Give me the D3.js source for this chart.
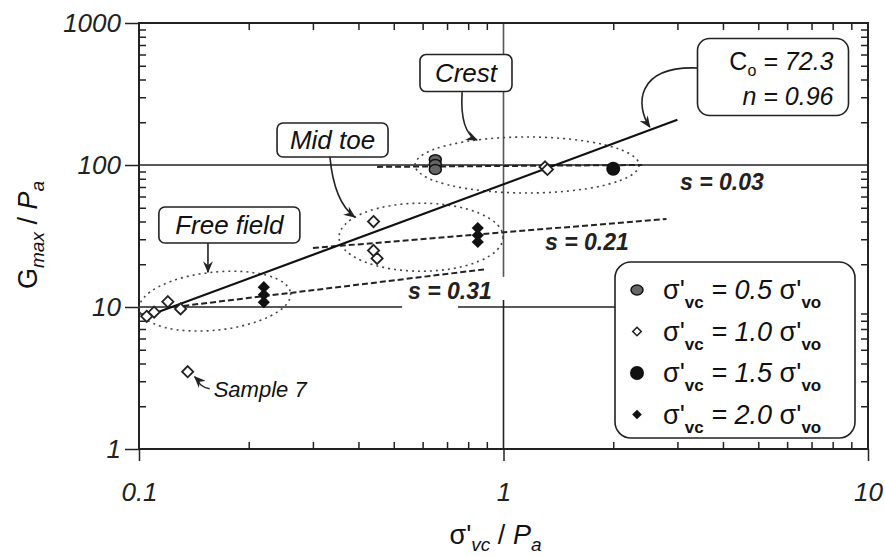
<!DOCTYPE html>
<html>
<head>
<meta charset="utf-8">
<script src="https://cdn.jsdelivr.net/npm/d3@7"></script>
<style>
  body { margin: 0; background: #fff; }
  svg { font-family: "Liberation Sans", Arial, sans-serif; }
  .frame path.domain { stroke: #222; stroke-width: 2; }
  .frame line { stroke: #222; stroke-width: 1.5; }
  .frame text { font-size: 26px; font-style: italic; fill: #222; }
</style>
</head>
<body>
<div id="chart"></div>
<script>
var fullW = 885, fullH = 556;
var margin = {top: 23, right: 17, bottom: 107, left: 139};
var width = fullW - margin.left - margin.right;
var height = fullH - margin.top - margin.bottom;

// tick values and labels
var xTicks = [0.1, 1, 10];
var xTickLabels = ["0.1", "1", "10"];
var yTicks = [1, 10, 100, 1000];
var yTickLabels = ["1", "10", "100", "1000"];

// sigma'vc = 0.5 sigma'vo (grey circles)
var halfX = [0.65, 0.65, 0.65];
var halfY = [109, 101, 93];
// sigma'vc = 1.0 sigma'vo (open diamonds)
var oneX = [0.105, 0.11, 0.12, 0.13, 0.136, 0.44, 0.44, 0.45, 1.3, 1.32];
var oneY = [8.6, 9.2, 10.9, 9.7, 3.5, 40, 25, 22, 97, 93];
// sigma'vc = 1.5 sigma'vo (black circles)
var oneHalfX = [2.0];
var oneHalfY = [94];
// sigma'vc = 2.0 sigma'vo (black diamonds)
var twoX = [0.22, 0.22, 0.22, 0.85, 0.85, 0.85];
var twoY = [13.8, 12.2, 10.8, 36, 32, 28.7];

// fitted line (Co = 72.3, n = 0.96), end points
var fitX = [0.105, 3.0];
var fitY = [8.6, 208];
// trend lines through each group
var s03X = [0.45, 2.4], s03Y = [97, 100];
var s21X = [0.3, 2.8], s21Y = [26, 41.7];
var s31X = [0.125, 0.9], s31Y = [10, 18.5];

var svg = d3.select("#chart").append("svg")
    .attr("width", fullW)
    .attr("height", fullH);

var defs = svg.append("defs");
defs.append("marker")
    .attr("id", "arrow")
    .attr("viewBox", "0 0 12 10")
    .attr("refX", 11).attr("refY", 5)
    .attr("markerWidth", 12).attr("markerHeight", 10)
    .attr("markerUnits", "userSpaceOnUse")
    .attr("orient", "auto")
    .append("path")
    .attr("d", "M0,0 L12,5 L0,10 L4,5 Z")
    .attr("fill", "#222");

var g = svg.append("g")
    .attr("transform", "translate(" + margin.left + "," + margin.top + ")");

var x = d3.scaleLog().domain([0.1, 10]).range([0, width]);
var y = d3.scaleLog().domain([1, 1000]).range([height, 0]);

var xMinor = x.ticks().filter(function(d) { return xTicks.indexOf(d) < 0; });
var yMinor = y.ticks().filter(function(d) { return yTicks.indexOf(d) < 0; });

// reference lines
var ref = g.append("g").attr("class", "ref")
    .attr("stroke", "#222").attr("stroke-width", 1.6).attr("fill", "none");
ref.append("line")
    .attr("x1", x(0.1)).attr("x2", x(10))
    .attr("y1", y(100)).attr("y2", y(100));
ref.append("line")
    .attr("x1", x(0.1)).attr("x2", x(0.527))
    .attr("y1", y(10)).attr("y2", y(10));
ref.append("line")
    .attr("x1", x(0.75)).attr("x2", x(4))
    .attr("y1", y(10)).attr("y2", y(10));
ref.append("line")
    .attr("x1", x(1)).attr("x2", x(1))
    .attr("y1", y(1000)).attr("y2", y(16.3))
    .attr("stroke", "#555");
ref.append("line")
    .attr("x1", x(1)).attr("x2", x(1))
    .attr("y1", y(11.2)).attr("y2", y(1));

// axes
g.append("g").attr("class", "frame")
    .attr("transform", "translate(0," + height + ")")
    .call(d3.axisBottom(x).tickValues(xTicks).tickSize(12).tickPadding(22)
        .tickFormat(function(d, i) { return xTickLabels[i]; }));
g.append("g").attr("class", "frame")
    .attr("transform", "translate(0," + height + ")")
    .call(d3.axisBottom(x).tickValues(xMinor).tickSize(-7).tickFormat(""));
g.append("g").attr("class", "frame")
    .call(d3.axisTop(x).tickValues(xMinor).tickSize(-7).tickFormat(""));
g.append("g").attr("class", "frame")
    .call(d3.axisLeft(y).tickValues(yTicks).tickSize(14).tickPadding(4)
        .tickFormat(function(d, i) { return yTickLabels[i]; }));
g.append("g").attr("class", "frame")
    .call(d3.axisLeft(y).tickValues(yMinor).tickSize(-7).tickFormat(""));
g.append("g").attr("class", "frame")
    .attr("transform", "translate(" + width + ",0)")
    .call(d3.axisRight(y).tickValues(yMinor).tickSize(-7).tickFormat(""));
g.selectAll(".frame path.domain").attr("d", null);
g.append("rect")
    .attr("width", width).attr("height", height)
    .attr("fill", "none").attr("stroke", "#222").attr("stroke-width", 2);

// dotted ellipses around groups
var groups = [
  {cx: 1.16, cy: 100, rx: 112, ry: 28, rot: 0},
  {cx: 0.594, cy: 31, rx: 82, ry: 34, rot: 0},
  {cx: 0.1616, cy: 11, rx: 76, ry: 29, rot: -6}
];
g.selectAll("ellipse.group").data(groups).enter().append("ellipse")
    .attr("class", "group")
    .attr("transform", function(d) {
      return "translate(" + x(d.cx) + "," + y(d.cy) + ") rotate(" + d.rot + ")";
    })
    .attr("rx", function(d) { return d.rx; })
    .attr("ry", function(d) { return d.ry; })
    .attr("fill", "none").attr("stroke", "#444")
    .attr("stroke-width", 1.6).attr("stroke-dasharray", "2,4");

// trend lines
var line = d3.line().x(function(d) { return x(d[0]); }).y(function(d) { return y(d[1]); });
[[s03X, s03Y], [s21X, s21Y], [s31X, s31Y]].forEach(function(s) {
  g.append("path")
      .attr("d", line(d3.zip(s[0], s[1])))
      .attr("fill", "none").attr("stroke", "#222")
      .attr("stroke-width", 2).attr("stroke-dasharray", "6,3");
});
g.append("path")
    .attr("d", line(d3.zip(fitX, fitY)))
    .attr("fill", "none").attr("stroke", "#111").attr("stroke-width", 2.2);

// markers
var diamond = d3.symbol().type(d3.symbolDiamond2).size(80);
var diamondLg = d3.symbol().type(d3.symbolDiamond2).size(95);

g.selectAll("ellipse.half").data(d3.zip(halfX, halfY)).enter().append("ellipse")
    .attr("class", "half")
    .attr("cx", function(d) { return x(d[0]); })
    .attr("cy", function(d) { return y(d[1]); })
    .attr("rx", 6).attr("ry", 5)
    .attr("fill", "#666").attr("stroke", "#111").attr("stroke-width", 1.5);

g.selectAll("path.one").data(d3.zip(oneX, oneY)).enter().append("path")
    .attr("class", "one")
    .attr("transform", function(d) { return "translate(" + x(d[0]) + "," + y(d[1]) + ")"; })
    .attr("d", diamond)
    .attr("fill", "#fff").attr("stroke", "#222").attr("stroke-width", 1.8);

g.selectAll("circle.onehalf").data(d3.zip(oneHalfX, oneHalfY)).enter().append("circle")
    .attr("class", "onehalf")
    .attr("cx", function(d) { return x(d[0]); })
    .attr("cy", function(d) { return y(d[1]); })
    .attr("r", 7).attr("fill", "#111");

g.selectAll("path.two").data(d3.zip(twoX, twoY)).enter().append("path")
    .attr("class", "two")
    .attr("transform", function(d) { return "translate(" + x(d[0]) + "," + y(d[1]) + ")"; })
    .attr("d", diamondLg)
    .attr("fill", "#111");

// slope labels
var slopes = [
  {t: "s = 0.03", x: 3.05, y: 66.7},
  {t: "s = 0.21", x: 1.30, y: 25.2},
  {t: "s = 0.31", x: 0.547, y: 11.4}
];
g.selectAll("text.slope").data(slopes).enter().append("text")
    .attr("class", "slope")
    .attr("x", function(d) { return x(d.x); })
    .attr("y", function(d) { return y(d.y); })
    .style("font-size", "23px").style("font-weight", "bold").style("font-style", "italic")
    .attr("fill", "#222")
    .text(function(d) { return d.t; });

// boxed callouts
var callouts = [
  {t: "Crest", x: 0.789, y: 444, w: 92, h: 37, from: [0.77, 326], c1: [0.76, 190], c2: [0.80, 160], to: [0.846, 150]},
  {t: "Mid toe", x: 0.3396, y: 150, w: 111, h: 34, from: [0.334, 114], c1: [0.34, 70], c2: [0.36, 50], to: [0.391, 43]},
  {t: "Free field", x: 0.177, y: 37.8, w: 141, h: 36, from: [0.1546, 28.2], c1: [0.1546, 24], c2: [0.1546, 20], to: [0.1546, 17.6]}
];
callouts.forEach(function(c) {
  var cx = x(c.x), cy = y(c.y);
  g.append("rect")
      .attr("x", cx - c.w / 2).attr("y", cy - c.h / 2)
      .attr("width", c.w).attr("height", c.h)
      .attr("rx", 6)
      .attr("fill", "#fff").attr("stroke", "#222").attr("stroke-width", 1.6);
  g.append("text")
      .attr("x", cx).attr("y", cy + 9)
      .attr("text-anchor", "middle")
      .style("font-size", "26px").style("font-style", "italic")
      .attr("fill", "#111")
      .text(c.t);
  g.append("path")
      .attr("d", "M" + x(c.from[0]) + "," + y(c.from[1]) +
                 " C" + x(c.c1[0]) + "," + y(c.c1[1]) + " " +
                 x(c.c2[0]) + "," + y(c.c2[1]) + " " +
                 x(c.to[0]) + "," + y(c.to[1]))
      .attr("fill", "none").attr("stroke", "#222").attr("stroke-width", 1.6)
      .attr("marker-end", "url(#arrow)");
});

// fit parameter box
var bx = x(5.47), by = y(420);
g.append("rect")
    .attr("x", bx - 75).attr("y", by - 38)
    .attr("width", 151).attr("height", 77).attr("rx", 12)
    .attr("fill", "#fff").attr("stroke", "#222").attr("stroke-width", 1.6);
var c0 = g.append("text")
    .attr("x", bx + 61).attr("y", by - 6)
    .attr("text-anchor", "end")
    .style("font-size", "25px").style("font-style", "italic").attr("fill", "#111");
c0.append("tspan").style("font-style", "normal").text("C");
c0.append("tspan").attr("dy", 6).style("font-size", "16px").style("font-style", "normal").text("o");
c0.append("tspan").attr("dy", -6).text(" = 72.3");
g.append("text")
    .attr("x", bx + 61).attr("y", by + 29)
    .attr("text-anchor", "end")
    .style("font-size", "25px").style("font-style", "italic").attr("fill", "#111")
    .text("n = 0.96");
g.append("path")
    .attr("d", "M" + (bx - 75) + "," + y(482) +
               " C" + x(2.3) + "," + y(500) + " " + x(2.3) + "," + y(260) + " " + x(2.52) + "," + y(185))
    .attr("fill", "none").attr("stroke", "#222").attr("stroke-width", 1.6)
    .attr("marker-end", "url(#arrow)");

// Sample 7 note
var sx = x(0.136), sy = y(3.5);
g.append("path")
    .attr("d", "M" + (sx + 22) + "," + (sy + 17) + " C" + (sx + 12) + "," + (sy + 16) + " " +
               (sx + 10) + "," + (sy + 8) + " " + (sx + 7) + "," + (sy + 5))
    .attr("fill", "none").attr("stroke", "#222").attr("stroke-width", 1.4)
    .attr("marker-end", "url(#arrow)");
g.append("text")
    .attr("x", sx + 26).attr("y", sy + 25)
    .style("font-size", "22px").style("font-style", "italic").attr("fill", "#111")
    .text("Sample 7");

// legend
var legLabels = ["0.5", "1.0", "1.5", "2.0"];
var legend = svg.append("g").attr("transform", "translate(615,262)");
legend.append("rect")
    .attr("width", 240).attr("height", 176).attr("rx", 16)
    .attr("fill", "#fff").attr("stroke", "#222").attr("stroke-width", 1.6);
var rows = legend.selectAll("g.row").data(legLabels).enter().append("g")
    .attr("class", "row")
    .attr("transform", function(d, i) { return "translate(22," + (28 + i * 41.5) + ")"; });
rows.each(function(d, i) {
  var r = d3.select(this);
  if (i === 0) r.append("ellipse").attr("rx", 6).attr("ry", 5).attr("fill", "#666").attr("stroke", "#111").attr("stroke-width", 1.5);
  if (i === 1) r.append("path").attr("d", d3.symbol().type(d3.symbolDiamond2).size(45)).attr("fill", "#fff").attr("stroke", "#222").attr("stroke-width", 1.6);
  if (i === 2) r.append("circle").attr("r", 7).attr("fill", "#111");
  if (i === 3) r.append("path").attr("d", d3.symbol().type(d3.symbolDiamond2).size(60)).attr("fill", "#111");
  var t = r.append("text").attr("x", 26).attr("y", 9)
      .style("font-size", "27px").attr("fill", "#111");
  t.append("tspan").text("σ'");
  t.append("tspan").attr("dy", 9).style("font-size", "17px").style("font-weight", "bold").text("vc");
  t.append("tspan").attr("dy", -9).style("font-style", "italic").text(" = " + d + " ");
  t.append("tspan").text("σ'");
  t.append("tspan").attr("dy", 9).style("font-size", "17px").style("font-weight", "bold").text("vo");
});

// axis titles
var yt = svg.append("text")
    .attr("transform", "translate(37," + (margin.top + 212) + ") rotate(-90)")
    .attr("text-anchor", "middle")
    .style("font-size", "27px").attr("fill", "#111");
yt.append("tspan").text("G");
yt.append("tspan").attr("dy", 7).style("font-size", "19px").style("font-style", "italic").text("max");
yt.append("tspan").attr("dy", -7).text("  / ");
yt.append("tspan").style("font-style", "italic").text("P");
yt.append("tspan").attr("dy", 7).style("font-size", "19px").style("font-style", "italic").text("a");

var xt = svg.append("text")
    .attr("x", margin.left + x(1) - 8).attr("y", 544)
    .attr("text-anchor", "middle")
    .style("font-size", "27px").attr("fill", "#111");
xt.append("tspan").text("σ'");
xt.append("tspan").attr("dy", 7).style("font-size", "19px").style("font-style", "italic").text("vc");
xt.append("tspan").attr("dy", -7).text(" / ");
xt.append("tspan").style("font-style", "italic").text("P");
xt.append("tspan").attr("dy", 7).style("font-size", "19px").style("font-style", "italic").text("a");
</script>
</body>
</html>
